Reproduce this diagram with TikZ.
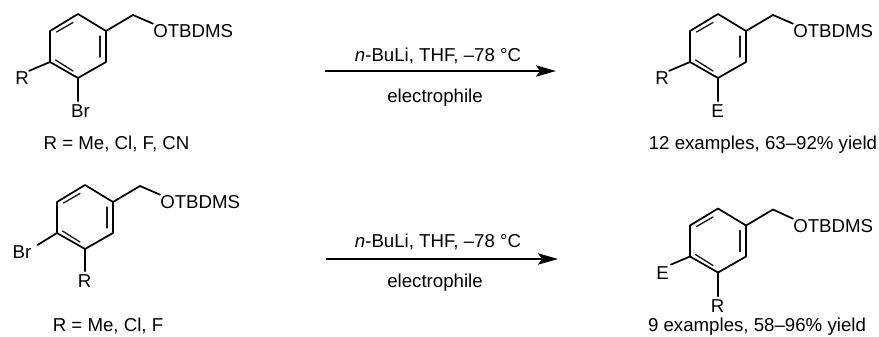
\documentclass[tikz,border=0pt]{standalone}
\usepackage{fontspec}
\setmainfont{Liberation Sans}
\usetikzlibrary{arrows.meta}
\tikzset{
  x=0.75pt,y=-0.75pt,
  bond/.style={line width=1.3pt,line cap=round,line join=round,black},
  inner/.style={line width=1.0pt,line cap=round,black!90},
  lab/.style={inner sep=0pt,anchor=base,font=\fontsize{14pt}{16pt}\selectfont,text=black},
  rxn/.style={line width=1.3pt,black,-{Stealth[length=15pt,width=8.5pt,inset=3pt]}},
  pics/arene/.style={code={
    \coordinate (-a) at (28,-17);
    \coordinate (-b) at (56,0);
    \coordinate (-c) at (56,31);
    \coordinate (-d) at (28,47);
    \coordinate (-e) at (0,31);
    \coordinate (-f) at (0,0);
    \coordinate (-g) at (83,-16);
    \draw[bond] (-a)--(-b)--(-c)--(-d)--(-e)--(-f)--cycle;
    \draw[bond] (-b)--(-g);
    \draw[inner] (6.5,1) -- (23,-8.5);
    \draw[inner] (50,5) -- (50,26);
    \draw[inner] (5.5,29) -- (23,40);
  }}
}
\begin{document}
\begin{tikzpicture}
\useasboundingbox (0,0) rectangle (879,336);
% top left
\pic (p) at (50,31) {arene};
\node[lab,anchor=base west] (po) at (153,37) {OTBDMS};
\node[lab] (pr) at (22,84) {R};
\node[lab] (pb) at (80.5,117) {Br};
\node[lab] (pt) at (116.5,149) {R = Me, Cl, F, CN};
\draw[bond] (p-g) -- (po.north west);
\draw[bond] (p-e) -- (pr.north east);
\draw[bond] (p-d) -- ([yshift=2pt]pb.north -| p-d);
% bottom left
\pic (q) at (57,202) {arene};
\node[lab,anchor=base west] (qo) at (160,208) {OTBDMS};
\node[lab] (qr) at (22,258) {Br};
\node[lab] (qb) at (84.5,287) {R};
\node[lab] (qt) at (108,331) {R = Me, Cl, F};
\draw[bond] (q-g) -- (qo.north west);
\draw[bond] (q-e) -- ([xshift=4.5pt]qr.north east);
\draw[bond] (q-d) -- ([yshift=2pt]qb.north -| q-d);
% top right
\pic (r) at (690,31) {arene};
\node[lab,anchor=base west] (ro) at (793,37) {OTBDMS};
\node[lab] (rr) at (662,84) {R};
\node[lab] (rb) at (717.5,117) {E};
\node[lab] (rt) at (763,149) {12 examples, 63–92\% yield};
\draw[bond] (r-g) -- (ro.north west);
\draw[bond] (r-e) -- (rr.north east);
\draw[bond] (r-d) -- ([yshift=2pt]rb.north -| r-d);
% bottom right
\pic (s) at (690,225.5) {arene};
\node[lab,anchor=base west] (so) at (793,232) {OTBDMS};
\node[lab] (sr) at (662.5,279) {E};
\node[lab] (sb) at (717.5,312) {R};
\node[lab] (st) at (757,331) {9 examples, 58–96\% yield};
\draw[bond] (s-g) -- (so.north west);
\draw[bond] (s-e) -- ([xshift=1.5pt,yshift=1pt]sr.north east);
\draw[bond] (s-d) -- ([yshift=2pt]sb.north -| s-d);
% arrows
\coordinate (a1) at (324.5,71);
\coordinate (a2) at (556,71);
\coordinate (b1) at (326,259);
\coordinate (b2) at (558,259);
\draw[rxn] (a1) -- (a2);
\draw[rxn] (b1) -- (b2);
\node[lab] (l1) at (438,61) {\textit{n}-BuLi, THF, –78 °C};
\node[lab] (l2) at (435,102) {electrophile};
\node[lab] (l3) at (438,247) {\textit{n}-BuLi, THF, –78 °C};
\node[lab] (l4) at (435,287) {electrophile};
\end{tikzpicture}
\end{document}
